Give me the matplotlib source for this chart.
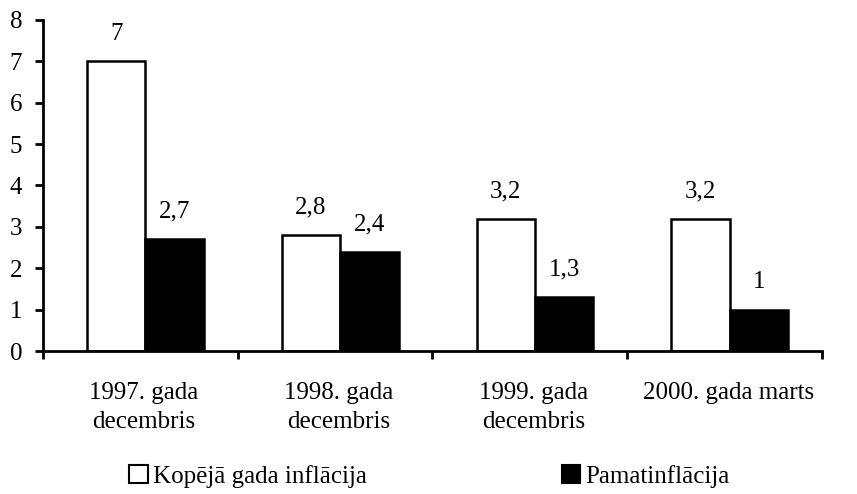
import numpy as np
import matplotlib
matplotlib.use("Agg")
import matplotlib.pyplot as plt
from matplotlib.patches import Patch

categories = ["1997. gada\ndecembris", "1998. gada\ndecembris", "1999. gada\ndecembris", "2000. gada marts"]
kopeja = [7, 2.8, 3.2, 3.2]
pamat = [2.7, 2.4, 1.3, 1]
kopeja_lbl = ["7", "2,8", "3,2", "3,2"]
pamat_lbl = ["2,7", "2,4", "1,3", "1"]
series_names = ["Kopējā gada inflācija", "Pamatinflācija"]

plt.rcParams['font.family'] = ['Liberation Serif', 'DejaVu Serif']
fs = 18

fig = plt.figure(figsize=(8.57, 4.94), dpi=100)
ax = fig.add_axes([0.050, 0.289, 0.909, 0.671])

x = np.arange(len(categories))
w = 0.30
ax.bar(x + 0.377, kopeja, w, color="white", edgecolor="black", linewidth=1.8)
ax.bar(x + 0.677, pamat, w, color="black", edgecolor="black", linewidth=1.8)

for i in range(len(categories)):
    ax.annotate(kopeja_lbl[i], (x[i] + 0.377, kopeja[i]), xytext=(0, 12),
                textcoords="offset points", ha="center", va="bottom", fontsize=fs)
    ax.annotate(pamat_lbl[i], (x[i] + 0.677, pamat[i]), xytext=(0, 12),
                textcoords="offset points", ha="center", va="bottom", fontsize=fs)

ax.set_xlim(0, 4)
ax.set_ylim(0, 8)
ax.set_yticks(range(0, 9))
ax.set_xticks(range(0, 5))
ax.set_xticklabels([])
ax.set_xticks(x + 0.52, minor=True)
ax.set_xticklabels(categories, minor=True, fontsize=fs, linespacing=1.45)
ax.tick_params(axis="x", which="minor", length=0, pad=22)
ax.tick_params(axis="x", which="major", direction="out", length=6, width=2)
ax.tick_params(axis="y", direction="out", length=6, width=2, labelsize=fs, pad=9)

for s in ["top", "right"]:
    ax.spines[s].set_visible(False)
for s in ["left", "bottom"]:
    ax.spines[s].set_linewidth(2)

handles = [Patch(facecolor="white", edgecolor="black", linewidth=1.5),
           Patch(facecolor="black", edgecolor="black", linewidth=1.5)]
fig.legend(handles, series_names, ncol=2, loc="center", bbox_to_anchor=(0.501, 0.036),
           frameon=False, fontsize=fs, handlelength=0.75, handleheight=0.75,
           handletextpad=0.2, columnspacing=7.8)

fig.savefig("out.png", dpi=100)
